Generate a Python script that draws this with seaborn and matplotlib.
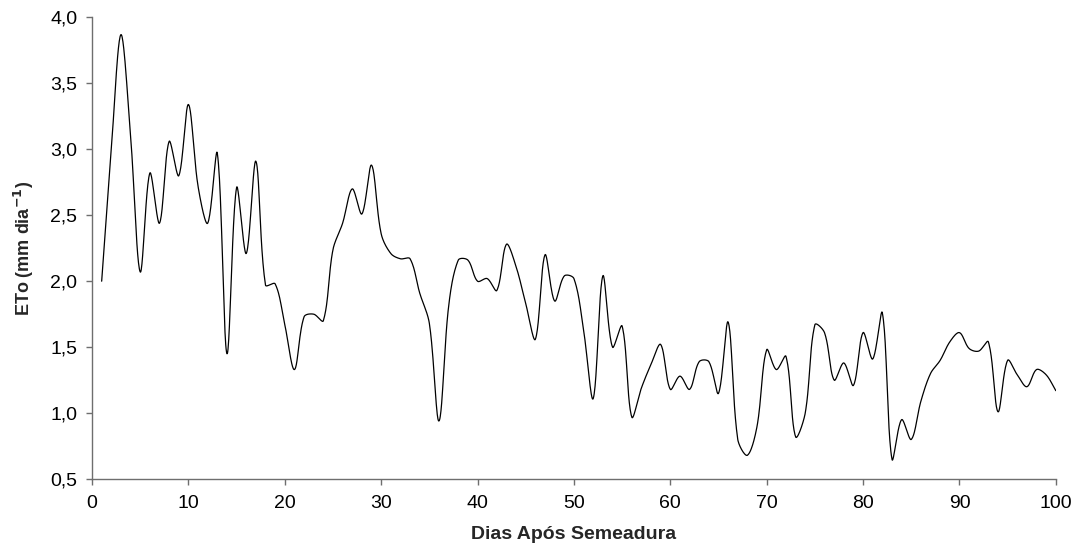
import numpy as np
import pandas as pd
import matplotlib
matplotlib.use("Agg")
import matplotlib.pyplot as plt
import seaborn as sns
from matplotlib.ticker import FuncFormatter

# Daily reference evapotranspiration (ETo), days after sowing 1..100
dias = list(range(1, 101))
eto = [
    2.00, 3.00, 3.87, 3.10, 2.07, 2.82, 2.44, 3.06, 2.80, 3.34,
    2.72, 2.44, 2.97, 1.45, 2.71, 2.21, 2.91, 1.97, 1.98, 1.67,
    1.33, 1.73, 1.75, 1.70, 2.24, 2.44, 2.70, 2.51, 2.88, 2.36,
    2.21, 2.17, 2.17, 1.91, 1.68, 0.94, 1.81, 2.16, 2.16, 2.00,
    2.02, 1.93, 2.28, 2.11, 1.83, 1.56, 2.20, 1.85, 2.04, 2.02,
    1.63, 1.11, 2.04, 1.50, 1.66, 0.97, 1.19, 1.37, 1.52, 1.18,
    1.28, 1.18, 1.39, 1.39, 1.15, 1.69, 0.80, 0.68, 0.90, 1.48,
    1.33, 1.43, 0.82, 1.00, 1.67, 1.61, 1.25, 1.38, 1.21, 1.61,
    1.41, 1.76, 0.65, 0.95, 0.80, 1.09, 1.30, 1.40, 1.54, 1.61,
    1.49, 1.47, 1.54, 1.01, 1.40, 1.29, 1.20, 1.33, 1.29, 1.17,
]
x_ticks = [0, 10, 20, 30, 40, 50, 60, 70, 80, 90, 100]
y_ticks = [0.5, 1.0, 1.5, 2.0, 2.5, 3.0, 3.5, 4.0]


def smooth_curve(x, y, sx=9.64, sy=132.0, steps=24):
    """Smoothed line: cubic Bezier segments whose handles are split by
    chord length (in display proportions), like spreadsheet smoothing."""
    P = np.column_stack([np.asarray(x, float) * sx, np.asarray(y, float) * sy])
    n = len(P)
    out = []
    handles_in = np.zeros_like(P)
    handles_out = np.zeros_like(P)
    for i in range(n):
        if i == 0:
            d = P[1] - P[0]
            handles_out[i] = P[i] + d / 3.0
            continue
        if i == n - 1:
            d = P[-1] - P[-2]
            handles_in[i] = P[i] - d / 3.0
            continue
        d = P[i + 1] - P[i - 1]
        l1 = np.hypot(*(P[i] - P[i - 1]))
        l2 = np.hypot(*(P[i + 1] - P[i]))
        s = l1 + l2
        handles_in[i] = P[i] - d * (l1 / s) / 3.0
        handles_out[i] = P[i] + d * (l2 / s) / 3.0
    t = np.linspace(0, 1, steps, endpoint=False)[:, None]
    for i in range(n - 1):
        b0, b1, b2, b3 = P[i], handles_out[i], handles_in[i + 1], P[i + 1]
        seg = ((1 - t) ** 3) * b0 + 3 * ((1 - t) ** 2) * t * b1 \
            + 3 * (1 - t) * t ** 2 * b2 + t ** 3 * b3
        out.append(seg)
    out.append(P[-1:])
    pts = np.vstack(out)
    return pts[:, 0] / sx, pts[:, 1] / sy


cx, cy = smooth_curve(dias, eto)
df = pd.DataFrame({"dia": cx, "eto": cy})

sns.set_theme(style="ticks")
plt.rcParams["font.family"] = ["Liberation Sans", "DejaVu Sans"]

fig = plt.figure(figsize=(10.84, 5.46), dpi=100)
ax = fig.add_axes([0.0849, 0.1227, 0.974 - 0.0849, 0.968 - 0.1227])

sns.lineplot(data=df, x="dia", y="eto", ax=ax, color="black",
             linewidth=0.9, sort=False, estimator=None)

ax.set_xlim(0, 100)
ax.set_ylim(0.5, 4.0)
ax.set_xticks(x_ticks)
ax.set_yticks(y_ticks)
ax.yaxis.set_major_formatter(FuncFormatter(lambda v, _: f"{v:.1f}".replace(".", ",")))

for side in ("top", "right"):
    ax.spines[side].set_visible(False)
for side in ("left", "bottom"):
    ax.spines[side].set_color("#6e6e6e")
    ax.spines[side].set_linewidth(1.0)
ax.tick_params(axis="both", direction="out", length=4.5, width=1.0,
               color="#6e6e6e", labelsize=14, labelcolor="black", pad=6)
ax.tick_params(axis="x", pad=7)

ax.set_xlabel("Dias Após Semeadura", fontsize=14, fontweight="bold", labelpad=10)
ax.set_ylabel(r"ETo (mm dia$^{\mathbf{-1}}$)", fontsize=13, fontweight="bold", labelpad=10)

fig.savefig("out.png", dpi=100, facecolor="white")
